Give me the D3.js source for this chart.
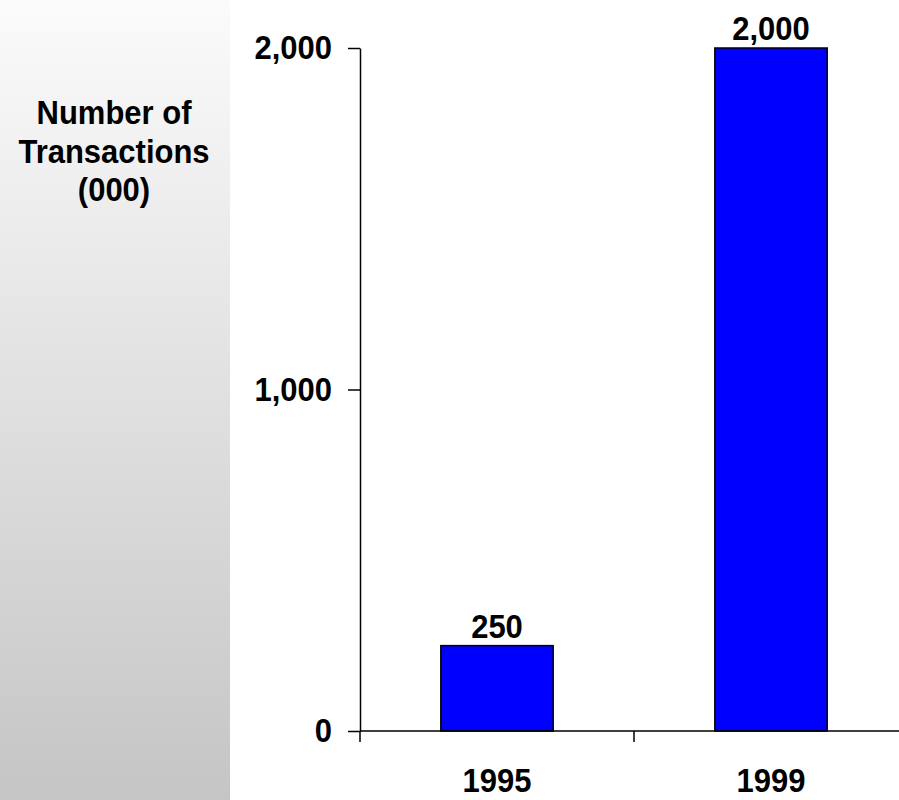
<!DOCTYPE html>
<html>
<head>
<meta charset="utf-8">
<script src="https://cdn.jsdelivr.net/npm/d3@7"></script>
<style>
  html, body { margin: 0; padding: 0; background: #ffffff; }
  svg { display: block; }
  text { font-family: "Liberation Sans", Arial, Helvetica, sans-serif; font-weight: bold; fill: #000; }
</style>
</head>
<body>
<svg id="chart" width="899" height="800"></svg>
<script>
// Transactions per year (thousands)
const categories = ["1995", "1999"];
const values = [250, 2000];
const yTicks = [0, 1000, 2000];
const titleLines = ["Number of", "Transactions", "(000)"];

const W = 899, H = 800;
const svg = d3.select("#chart");

// Shaded side panel behind the axis title
const defs = svg.append("defs");
const grad = defs.append("linearGradient")
  .attr("id", "panelShade").attr("x1", 0).attr("y1", 0).attr("x2", 0).attr("y2", 1);
grad.append("stop").attr("offset", "0%").attr("stop-color", "#fbfbfb");
grad.append("stop").attr("offset", "100%").attr("stop-color", "#c5c5c5");
svg.append("rect").attr("x", 0).attr("y", 0).attr("width", 230).attr("height", H)
  .attr("fill", "url(#panelShade)");

const plot = { left: 360, right: 908, top: 48, bottom: 731 };
const FS = 31, STRETCH = 1.1;

const x = d3.scaleBand().domain(categories).range([plot.left, plot.right]).padding(0);
const y = d3.scaleLinear().domain([0, 2000]).range([plot.bottom, plot.top]);
const barW = x.bandwidth() * 0.41;

// Text drawn slightly tall, anchored at its baseline
function tallText(parent, tx, ty, str, anchor) {
  return parent.append("g")
    .attr("transform", `translate(${tx},${ty}) scale(1,${STRETCH})`)
    .append("text")
    .attr("text-anchor", anchor || "middle")
    .style("font-size", FS + "px")
    .text(str);
}

// Axis title
titleLines.forEach((t, i) => tallText(svg, 114, 124 + i * 38.5, t, "middle"));

// Bars
svg.append("g").selectAll("rect")
  .data(values)
  .join("rect")
  .attr("x", (d, i) => x(categories[i]) + (x.bandwidth() - barW) / 2)
  .attr("y", d => y(d))
  .attr("width", barW)
  .attr("height", d => y(0) - y(d))
  .attr("fill", "#0000ff")
  .attr("stroke", "#000")
  .attr("stroke-width", 1.5);

// Value labels above bars
const fmt = d3.format(",");
values.forEach((v, i) => {
  tallText(svg, x(categories[i]) + x.bandwidth() / 2, y(v) - 8, fmt(v), "middle");
});

// Y axis
const yAxis = d3.axisLeft(y).tickValues(yTicks).tickFormat(fmt)
  .tickSize(12).tickSizeOuter(0).tickPadding(16);
const yg = svg.append("g").attr("transform", `translate(${plot.left},0)`).call(yAxis);
yg.selectAll("path, line").attr("stroke", "#000").attr("stroke-width", 1.5);
yg.selectAll("text")
  .style("font-size", FS + "px")
  .style("font-family", "'Liberation Sans', Arial, sans-serif")
  .style("font-weight", "bold")
  .attr("fill", "#000")
  .attr("transform", `scale(1,${STRETCH})`);

// X axis: baseline with ticks at the category boundaries
const xg = svg.append("g");
xg.append("line")
  .attr("x1", plot.left).attr("x2", plot.right)
  .attr("y1", y(0)).attr("y2", y(0))
  .attr("stroke", "#000").attr("stroke-width", 1.5);
const bounds = categories.map(c => x(c)).concat([x.range()[1]]);
xg.selectAll("line.tick").data(bounds).join("line")
  .attr("class", "tick")
  .attr("x1", d => d).attr("x2", d => d)
  .attr("y1", y(0)).attr("y2", y(0) + 11)
  .attr("stroke", "#000").attr("stroke-width", 1.5);
categories.forEach(c => tallText(xg, x(c) + x.bandwidth() / 2, 792, c, "middle"));
</script>
</body>
</html>
